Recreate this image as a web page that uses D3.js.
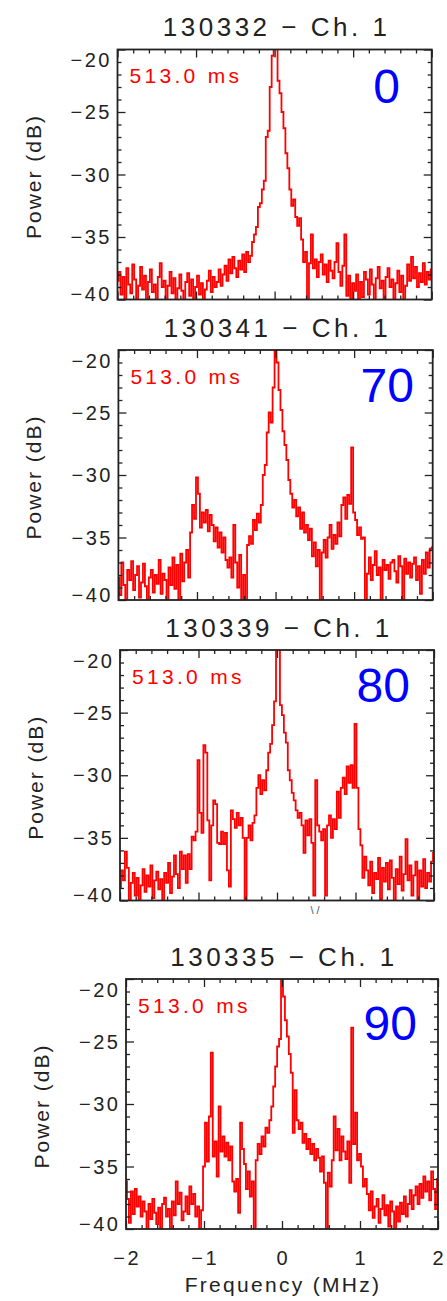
<!DOCTYPE html>
<html><head><meta charset="utf-8">
<script src="https://cdn.jsdelivr.net/npm/d3@7"></script>
<style>
body{margin:0;background:#fff;}
svg{display:block;}
text{font-family:"Liberation Sans",Arial,sans-serif;}
</style>
</head><body>
<svg id="chart" width="447" height="1301"></svg>
<script>
// ---------------- data ----------------
const panelTitles = ["130332 \u2212 Ch. 1", "130341 \u2212 Ch. 1", "130339 \u2212 Ch. 1", "130335 \u2212 Ch. 1"];
const panelAngles = ["0", "70", "80", "90"];
const durationLabel = "513.0 ms";
const frequencyTicks = [-2, -1, 0, 1, 2];
const frequencyTickLabels = ["\u22122", "\u22121", "0", "1", "2"];
const powerTicks = [-20, -25, -30, -35, -40];
const powerTickLabels = ["\u221220", "\u221225", "\u221230", "\u221235", "\u221240"];
const xAxisTitle = "Frequency (MHz)";
const yAxisTitle = "Power (dB)";
const freqStart = -2, freqStep = 0.025;

const spectrum0 = [
-38.5,-37.8,-39.6,-38.2,-40.5,-37.5,-38.8,-39.5,-37.2,-38.4,
-40.5,-38.9,-37.4,-39.2,-38.1,-40.5,-38.6,-37.6,-39.4,-38.8,
-40.5,-38.2,-37.1,-39.0,-38.5,-40.5,-38.9,-37.8,-39.5,-38.3,
-40.5,-39.1,-38.0,-39.3,-40.5,-38.6,-37.9,-39.7,-38.4,-40.5,
-39.0,-38.1,-39.6,-38.7,-40.5,-39.2,-38.5,-37.7,-39.4,-38.2,
-39.0,-38.6,-37.6,-38.9,-38.0,-37.3,-38.5,-36.8,-37.9,-36.6,
-37.5,-38.2,-36.9,-37.6,-36.4,-37.8,-36.2,-37.0,-36.5,-35.4,
-34.8,-34.2,-32.6,-32.3,-31.2,-30.5,-27.0,-26.5,-23.0,-20.5,
-19.0,-19.0,-22.5,-23.5,-25.0,-26.3,-28.3,-29.5,-31.2,-32.5,
-32.0,-33.4,-34.1,-33.5,-35.2,-37.0,-36.2,-40.5,-37.1,-34.8,
-37.5,-36.8,-38.2,-37.0,-36.4,-38.0,-37.2,-38.6,-36.9,-37.7,
-38.3,-37.0,-35.5,-37.8,-38.9,-37.3,-34.8,-39.7,-38.1,-40.5,
-38.7,-39.3,-38.0,-40.5,-38.6,-39.8,-37.8,-38.4,-39.6,-37.6,
-38.8,-40.5,-38.3,-37.4,-39.1,-38.5,-40.5,-38.2,-37.5,-39.0,
-38.4,-40.5,-38.7,-37.7,-39.4,-38.1,-40.5,-38.9,-37.2,-38.5,
-36.6,-38.3,-37.4,-39.0,-37.9,-38.6,-37.1,-38.8,-37.8,-38.4,
-37.6];

const spectrum70 = [
-38.2,-39.6,-37.0,-38.8,-40.5,-37.6,-38.4,-36.9,-39.2,-38.0,
-37.3,-39.8,-38.6,-37.1,-38.9,-40.5,-38.2,-37.6,-39.4,-38.0,
-38.7,-36.8,-39.5,-37.9,-38.4,-40.5,-37.4,-38.8,-36.6,-39.1,
-37.2,-40.5,-36.3,-38.5,-37.0,-36.0,-38.2,-34.6,-32.4,-33.5,
-30.2,-31.5,-34.2,-33.0,-33.8,-32.8,-34.5,-33.2,-34.0,-35.3,
-34.2,-35.8,-34.6,-36.2,-35.0,-36.8,-37.4,-36.6,-38.2,-34.0,
-37.0,-39.0,-36.4,-40.5,-38.0,-40.5,-35.6,-34.9,-35.5,-33.6,
-34.4,-33.1,-33.8,-32.4,-30.0,-29.2,-26.6,-25.0,-25.8,-23.0,
-19.5,-21.0,-23.2,-24.8,-26.5,-27.6,-28.8,-30.4,-31.5,-32.6,
-32.0,-33.3,-32.6,-34.3,-33.0,-34.6,-34.0,-35.2,-34.3,-36.5,
-35.4,-37.3,-36.0,-40.5,-36.2,-35.2,-36.6,-35.0,-34.0,-35.9,
-34.8,-35.5,-33.8,-34.9,-32.4,-31.8,-33.5,-31.6,-32.3,-27.8,
-33.0,-33.6,-34.8,-34.2,-35.1,-35.0,-40.5,-37.9,-36.6,-38.4,
-37.2,-36.1,-38.0,-37.4,-40.5,-36.8,-37.6,-37.2,-38.3,-37.0,
-36.8,-37.7,-38.6,-36.5,-37.3,-40.5,-36.7,-37.9,-37.0,-38.2,
-37.1,-36.6,-38.4,-37.3,-39.5,-36.8,-37.9,-36.2,-37.4,-35.9,
-35.8];

const spectrum80 = [
-39.0,-37.6,-38.4,-36.1,-37.4,-40.5,-38.6,-37.8,-39.6,-38.2,
-40.5,-38.8,-37.5,-39.3,-38.0,-38.9,-37.2,-39.8,-38.4,-37.7,
-39.1,-38.3,-40.5,-37.8,-38.6,-37.0,-39.4,-38.1,-36.4,-37.9,
-39.0,-36.1,-37.5,-36.4,-38.6,-36.3,-37.5,-34.9,-35.2,-34.5,
-28.8,-33.0,-34.6,-27.6,-28.2,-33.6,-38.4,-34.0,-32.0,-32.3,
-35.4,-35.5,-34.5,-35.5,-34.6,-37.6,-38.9,-32.8,-33.5,-34.2,
-33.0,-34.0,-33.4,-35.0,-40.5,-35.0,-34.0,-35.2,-33.8,-33.2,
-31.0,-30.0,-31.5,-30.4,-31.2,-29.6,-28.2,-27.5,-26.0,-24.1,
-19.5,-19.5,-24.4,-25.2,-26.6,-27.4,-29.6,-30.4,-31.4,-32.0,
-32.8,-33.4,-33.0,-34.0,-36.2,-33.6,-34.8,-33.5,-35.4,-39.6,
-30.4,-34.0,-34.5,-35.2,-34.3,-39.6,-34.0,-33.2,-35.0,-33.5,
-34.3,-31.3,-33.4,-31.0,-30.2,-31.5,-29.3,-30.6,-29.2,-31.0,
-25.9,-31.0,-34.3,-35.6,-38.2,-36.5,-37.6,-38.8,-36.9,-39.4,
-37.8,-38.3,-36.6,-39.9,-37.4,-38.5,-37.0,-39.1,-36.8,-38.2,
-40.5,-37.5,-38.7,-36.5,-39.2,-37.9,-35.1,-38.4,-37.2,-39.6,
-38.0,-36.9,-40.5,-37.6,-38.9,-36.7,-39.0,-37.8,-38.5,-36.9,
-36.2];

const spectrum90 = [
-36.2,-37.6,-39.5,-37.0,-38.8,-36.8,-38.2,-37.4,-39.0,-37.8,
-38.6,-40.5,-38.0,-39.2,-37.6,-38.7,-39.6,-38.3,-40.5,-38.0,
-37.5,-39.0,-38.4,-40.5,-37.8,-38.9,-36.2,-38.0,-37.1,-39.3,
-38.6,-37.4,-38.8,-36.6,-38.0,-37.2,-39.0,-38.2,-40.5,-38.5,
-35.0,-31.5,-34.6,-31.0,-25.9,-34.2,-33.0,-35.8,-30.2,-33.8,
-32.6,-34.2,-33.1,-34.5,-33.4,-36.2,-37.0,-36.0,-38.7,-31.5,
-33.6,-34.8,-36.8,-35.4,-37.4,-36.2,-40.5,-34.5,-33.2,-34.0,
-32.6,-33.4,-31.9,-32.3,-31.3,-30.2,-28.6,-27.0,-25.4,-24.8,
-20.0,-21.4,-23.3,-24.6,-26.0,-27.5,-32.3,-28.9,-31.3,-32.0,
-31.5,-33.1,-32.4,-33.6,-32.8,-34.0,-33.2,-34.5,-33.6,-34.3,
-35.4,-34.2,-36.3,-40.5,-35.5,-36.6,-34.5,-31.0,-33.7,-32.0,
-34.5,-32.6,-33.8,-34.4,-33.0,-36.3,-23.9,-33.2,-30.7,-34.5,
-34.0,-35.0,-36.6,-36.0,-37.2,-38.5,-37.0,-39.1,-38.2,-37.6,
-39.5,-38.4,-37.3,-38.9,-38.1,-39.8,-37.8,-38.6,-40.5,-38.2,
-39.4,-37.9,-38.8,-37.4,-39.0,-38.0,-36.9,-38.4,-37.3,-36.6,
-38.0,-36.4,-37.5,-35.8,-37.0,-36.2,-37.7,-35.4,-36.8,-38.4,
-36.0];

const spectra = [spectrum0, spectrum70, spectrum80, spectrum90];

// ---------------- layout ----------------
const boxes = [
  {left:117.5, right:431.7, top:49.5, bottom:299.5},
  {left:118.4, right:432.7, top:350,  bottom:600},
  {left:120,   right:434,   top:650,  bottom:900.5},
  {left:126,   right:438,   top:979,  bottom:1229}
];
const angleRight = [400, 414, 410, 417];
const angleBaseOff = [53.5, 52, 52, 61];
const ink = "#222";

const svg = d3.select("#chart");
const majorLen = 8, minorLen = 4;

boxes.forEach((b, p) => {
  const x = d3.scaleLinear().domain([-2, 2]).range([b.left, b.right]);
  const y = d3.scaleLinear().domain([-40, -20]).range([b.bottom, b.top]);
  const g = svg.append("g");

  const cid = "clip" + p;
  svg.append("clipPath").attr("id", cid).append("rect")
    .attr("x", b.left).attr("y", b.top).attr("width", b.right - b.left).attr("height", b.bottom - b.top);

  const recs = spectra[p].map((v, i) => ({f: freqStart + i * freqStep, v}));
  g.append("path").datum(recs)
    .attr("clip-path", `url(#${cid})`)
    .attr("fill", "none").attr("stroke", "#ff0000").attr("stroke-width", 1.8)
    .attr("stroke-linejoin", "miter")
    .attr("d", d3.line().x(d => x(d.f)).y(d => y(d.v)).curve(d3.curveStep));

  const xMinor = d3.range(-2, 2.0001, 0.2).filter(v => Math.abs(v - Math.round(v)) > 1e-6);
  const yMinor = d3.range(-40, -19.999, 1).filter(v => v % 5 !== 0);
  const styleAxis = sel => {
    sel.select(".domain").remove();
    sel.selectAll("line").attr("stroke", ink).attr("stroke-width", 1.3);
    sel.selectAll("text").remove();
  };
  [[frequencyTicks, majorLen], [xMinor, minorLen]].forEach(([vals, len]) => {
    g.append("g").attr("transform", `translate(0,${b.bottom})`)
      .call(d3.axisBottom(x).tickValues(vals).tickSize(-len).tickSizeOuter(0)).call(styleAxis);
    g.append("g").attr("transform", `translate(0,${b.top})`)
      .call(d3.axisTop(x).tickValues(vals).tickSize(-len).tickSizeOuter(0)).call(styleAxis);
  });
  [[powerTicks, majorLen], [yMinor, minorLen]].forEach(([vals, len]) => {
    g.append("g").attr("transform", `translate(${b.left},0)`)
      .call(d3.axisLeft(y).tickValues(vals).tickSize(-len).tickSizeOuter(0)).call(styleAxis);
    g.append("g").attr("transform", `translate(${b.right},0)`)
      .call(d3.axisRight(y).tickValues(vals).tickSize(-len).tickSizeOuter(0)).call(styleAxis);
  });

  g.append("rect").attr("x", b.left).attr("y", b.top)
    .attr("width", b.right - b.left).attr("height", b.bottom - b.top)
    .attr("fill", "none").attr("stroke", ink).attr("stroke-width", 1.8);

  const ls = 2.5;
  powerTicks.forEach((v, i) => {
    const cy = Math.max(b.top + 10.5, Math.min(b.bottom - 5.5, y(v)));
    g.append("text").attr("x", b.left - 8 + ls).attr("y", cy + 7)
      .attr("text-anchor", "end").attr("font-size", 20).attr("letter-spacing", ls)
      .attr("fill", ink).text(powerTickLabels[i]);
  });

  const ytx = b.left - 84, yty = (b.top + b.bottom) / 2 + 2;
  g.append("text").attr("transform", `translate(${ytx + 7},${yty}) rotate(-90)`)
    .attr("text-anchor", "middle").attr("font-size", 21).attr("letter-spacing", 2)
    .attr("fill", ink).text(yAxisTitle);

  g.append("text").attr("x", (b.left + b.right) / 2 + 2).attr("y", b.top - 13.5)
    .attr("text-anchor", "middle").attr("font-size", 26).attr("letter-spacing", 3.5)
    .attr("fill", ink).text(panelTitles[p]);

  g.append("text").attr("x", b.left + 12).attr("y", b.top + 33.5)
    .attr("font-size", 21).attr("letter-spacing", 3.3)
    .attr("fill", "#ff0000").text(durationLabel);

  g.append("text").attr("x", angleRight[p]).attr("y", b.top + angleBaseOff[p])
    .attr("text-anchor", "end").attr("font-size", 48)
    .attr("fill", "#0000ff").text(panelAngles[p]);

  if (p === 3) {
    frequencyTicks.forEach((v, i) => {
      g.append("text").attr("x", x(v) + ls / 2).attr("y", b.bottom + 36)
        .attr("text-anchor", "middle").attr("font-size", 20).attr("letter-spacing", ls)
        .attr("fill", ink).text(frequencyTickLabels[i]);
    });
    g.append("text").attr("x", (b.left + b.right) / 2 + 1).attr("y", b.bottom + 63)
      .attr("text-anchor", "middle").attr("font-size", 21).attr("letter-spacing", 2.3)
      .attr("fill", ink).text(xAxisTitle);
  }
});

svg.append("text").attr("x", 315).attr("y", 914).attr("text-anchor", "middle")
  .attr("font-size", 11).attr("fill", "#555").text("\\  /");
</script>
</body></html>
